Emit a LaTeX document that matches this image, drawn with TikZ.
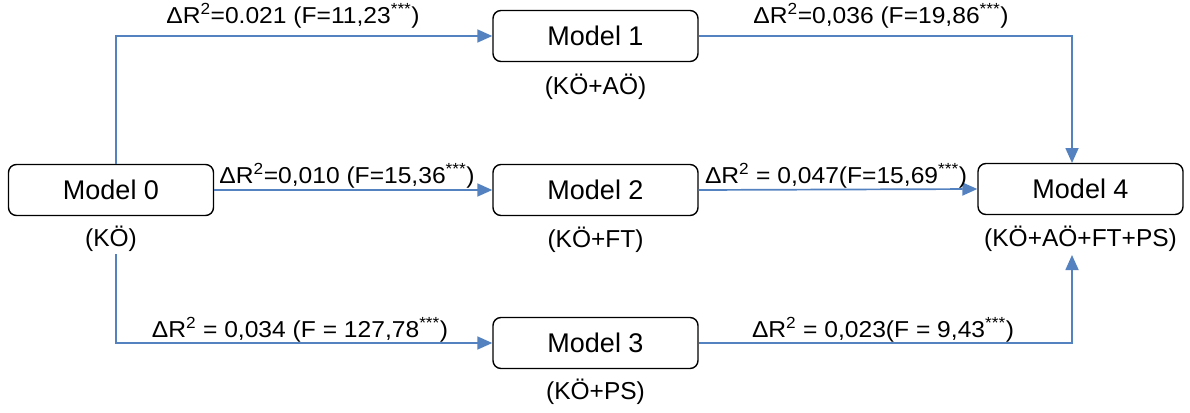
\documentclass[tikz,border=0pt]{standalone}
\usepackage{fontspec}
\setmainfont{Liberation Sans}
\usetikzlibrary{arrows.meta,calc}
\definecolor{flow}{RGB}{84,130,192}
\tikzset{
  model/.style={draw=black, line width=1.4pt, rounded corners=8pt, minimum width=205pt,
    minimum height=51pt, inner sep=0pt, font=\fontsize{27}{31}\selectfont},
  sublabel/.style={inner sep=0pt, font=\fontsize{24.5}{28}\selectfont},
  stat/.style={inner sep=0pt, font=\fontsize{23}{27}\selectfont},
  link/.style={draw=flow, line width=1.7pt, -{Triangle[length=15pt,width=13pt]}}
}
\newcommand{\dR}{ΔR\textsuperscript{2}}
\newcommand{\stars}{\textsuperscript{***}}
\newcommand{\wide}[1]{\scalebox{1.07}[1]{#1}}
\begin{document}
\begin{tikzpicture}[x=1pt,y=-1pt]
\useasboundingbox (0,0) rectangle (1190,412);

% model boxes
\node[model] (m0) at (111,190) {Model 0};
\node[model] (m1) at (595.5,36) {Model 1};
\node[model] (m2) at (595.5,190) {Model 2};
\node[model] (m3) at (595.5,343) {Model 3};
\node[model] (m4) at (1080.5,189) {Model 4};

% variable sets under the boxes
\node[sublabel] (l0) at (111,239) {(KÖ)};
\node[sublabel] (l1) at (595.5,87) {(KÖ+AÖ)};
\node[sublabel] (l2) at (595.5,240) {(KÖ+FT)};
\node[sublabel] (l3) at (595.5,392) {(KÖ+PS)};
\node[sublabel] (l4) at (1080.5,239) {(KÖ+AÖ+FT+PS)};

% anchor points for the bent connectors
\coordinate (up0) at (116,164);
\coordinate (dn0) at (116,254);
\coordinate (top4) at (1072,163);
\coordinate (bot4) at (1072,255);

% connectors
\draw[link] (up0) |- (m1.west);
\draw[link] (m0.east) -- (m2.west);
\draw[link] (dn0) |- (m3.west);
\draw[link] (m1.east) -| (top4);
\draw[link] (m2.east) -- (m4.west);
\draw[link] (m3.east) -| (bot4);

% change statistics
\node[stat] (s01) at (293,16) {\wide{\dR=0.021 (F=11,23\stars)}};
\node[stat] (s14) at (881,16) {\wide{\dR=0,036 (F=19,86\stars)}};
\node[stat] (s02) at (347,176) {\wide{\dR=0,010 (F=15,36\stars)}};
\node[stat] (s24) at (836,176) {\wide{\dR{} = 0,047(F=15,69\stars)}};
\node[stat] (s03) at (300,330) {\wide{\dR{} = 0,034 (F = 127,78\stars)}};
\node[stat] (s34) at (883,330) {\wide{\dR{} = 0,023(F = 9,43\stars)}};
\end{tikzpicture}
\end{document}
